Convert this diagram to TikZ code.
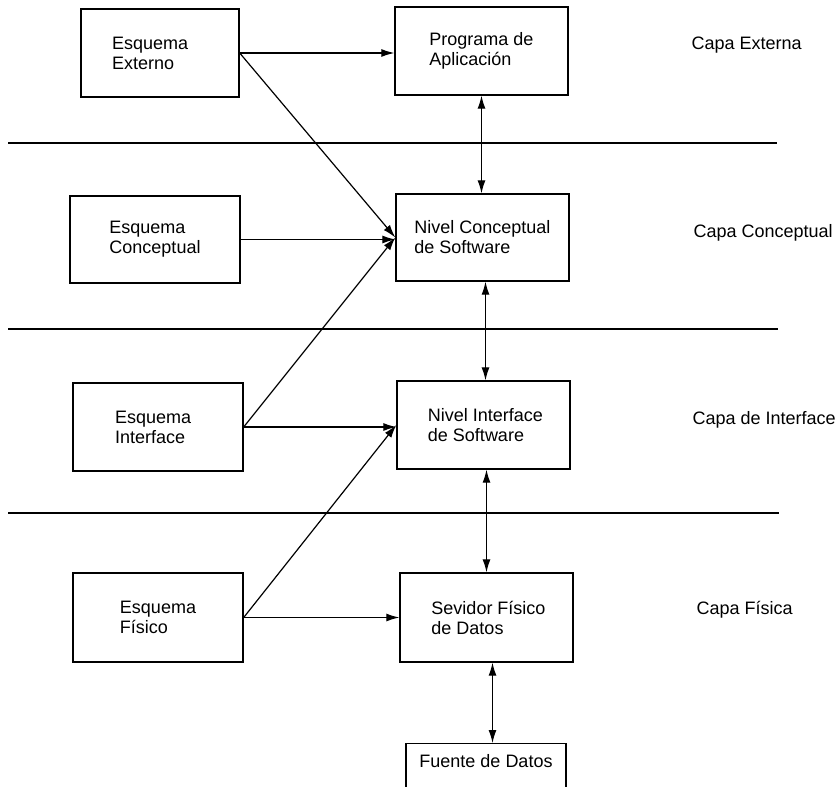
\documentclass[tikz,border=0pt]{standalone}
\usepackage{fontspec}
\setmainfont{Liberation Sans}
\usetikzlibrary{arrows.meta}
\begin{document}
\begin{tikzpicture}[x=1pt,y=-1pt,
  txt/.style={font=\fontsize{18}{20}\selectfont},
  box/.style={txt, draw, line width=1.4pt, align=left, inner sep=0pt},
  layer/.style={txt, anchor=west},
  sep/.style={line width=1.5pt},
  conn/.style={line width=1.2pt, -{Latex[length=13pt,width=8pt]}},
  both/.style={line width=1.2pt, {Latex[length=13pt,width=8pt]}-{Latex[length=13pt,width=8pt]}}]
\clip (0,0) rectangle (839,787);

% schema boxes (left column)
\node[box, minimum width=158pt, minimum height=88pt, text width=96pt, inner xsep=31pt] (ext) at (160,53) {Esquema\\Externo};
\node[box, minimum width=170pt, minimum height=87pt] (econ) at (155,239.5) {Esquema\\Conceptual};
\node[box, minimum width=170pt, minimum height=88pt, text width=86pt, inner xsep=42pt] (eint) at (158,427) {Esquema\\Interface};
\node[box, minimum width=170pt, minimum height=89pt] (efis) at (158,617.5) {Esquema\\F\'isico};

% software levels (middle column)
\node[box, minimum width=173pt, minimum height=88pt] (prog) at (481.5,51)  {Programa de\\Aplicaci\'on};
\node[box, minimum width=173pt, minimum height=87pt] (nc)   at (482.5,237.5) {Nivel Conceptual\\de Software};
\node[box, minimum width=173pt, minimum height=88pt] (ni)   at (483.5,425) {\hspace*{4pt}Nivel Interface\\\hspace*{4pt}de Software};
\node[box, minimum width=173pt, minimum height=89pt] (sev)  at (486.5,617.5) {\hspace*{4pt}Sevidor F\'isico\\\hspace*{4pt}de Datos};
\node[box, minimum width=160pt, anchor=north, text height=18pt, text depth=60pt, inner ysep=6pt] (fuente) at (486,743) {Fuente de Datos};

% layer separators
\coordinate (s1a) at (8,143);  \coordinate (s1b) at (777,143);
\coordinate (s2a) at (8,329);  \coordinate (s2b) at (778,329);
\coordinate (s3a) at (8,513);  \coordinate (s3b) at (779,513);
\draw[sep] (s1a) -- (s1b);
\draw[sep] (s2a) -- (s2b);
\draw[sep] (s3a) -- (s3b);

% layer names
\node[layer] (l1) at (688,45)  {Capa Externa};
\node[layer] (l2) at (690,233) {Capa Conceptual};
\node[layer] (l3) at (689,420) {Capa de Interface};
\node[layer] (l4) at (693,610) {Capa F\'isica};

% schema-to-level connectors
\draw[conn] (ext.east)  -- (ext.east -| prog.west);
\draw[conn] (ext.east)  -- (nc.west);
\draw[conn] (econ.east) -- (econ.east -| nc.west);
\draw[conn] (eint.east) -- (nc.west);
\draw[conn] (eint.east) -- (eint.east -| ni.west);
\draw[conn] (efis.east) -- (ni.west);
\draw[conn] (efis.east) -- (efis.east -| sev.west);

% level-to-level connectors
\draw[both] (prog.south) -- (prog.south |- nc.north);
\draw[both] ([xshift=3pt]nc.south) -- ([xshift=3pt]nc.south |- ni.north);
\draw[both] (sev.north |- ni.south) -- (sev.north);
\draw[both] ([xshift=6pt]sev.south) -- ([xshift=6pt]sev.south |- fuente.north);
\end{tikzpicture}
\end{document}
